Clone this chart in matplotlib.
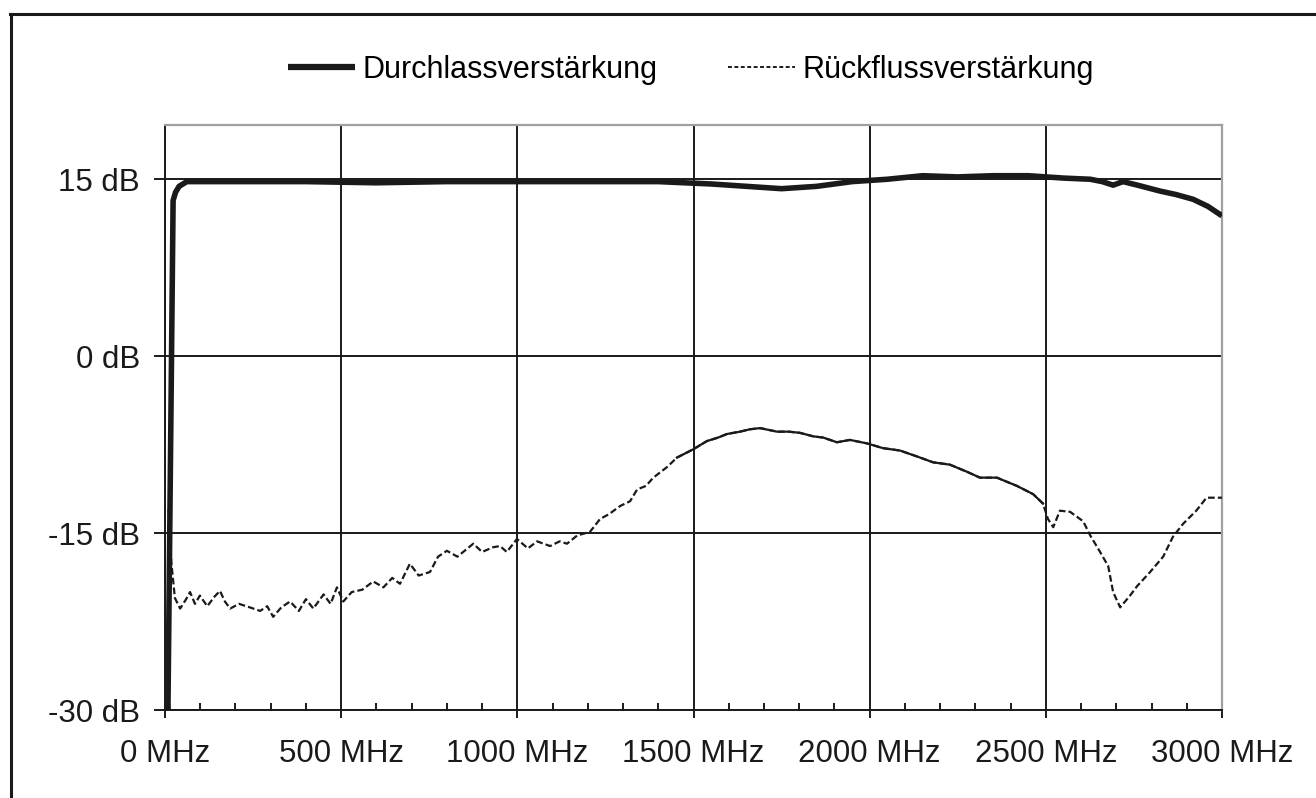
import matplotlib
matplotlib.use("Agg")
import matplotlib.pyplot as plt
from matplotlib.lines import Line2D
from matplotlib.ticker import MultipleLocator, FuncFormatter
import numpy as np

plt.rcParams['font.family'] = ['Liberation Sans', 'DejaVu Sans']

# Durchlassverstaerkung (MHz, dB)
durch_f = [0, 8, 23, 30, 40, 62, 100, 200, 400, 600, 800, 1000, 1200, 1400,
           1550, 1650, 1750, 1850, 1950, 2050, 2150, 2250, 2350, 2450, 2550,
           2626, 2660, 2691, 2719, 2760, 2824, 2870, 2918, 2960, 3000]
durch_db = [-23.5, -31.0, 13.2, 13.9, 14.4, 14.8, 14.8, 14.8, 14.8, 14.7, 14.8,
            14.8, 14.8, 14.8, 14.6, 14.4, 14.2, 14.4, 14.8, 15.0, 15.3, 15.2,
            15.3, 15.3, 15.1, 15.0, 14.8, 14.5, 14.8, 14.5, 14.0, 13.7, 13.3,
            12.7, 11.9]

# Rueckflussverstaerkung (MHz, dB)
rueck_f = [10, 18, 28, 43, 60, 71, 85, 99, 120, 140, 156, 170, 185, 210, 241,
           270, 290, 307, 330, 355, 380, 400, 421, 450, 470, 488, 506, 530, 560,
           591, 620, 645, 667, 695, 720, 752, 775, 800, 830, 875, 900, 931, 951,
           970, 999, 1030, 1056, 1093, 1120, 1141, 1170, 1206, 1235, 1260, 1292,
           1320, 1340, 1365, 1386, 1425, 1453, 1499, 1538, 1570, 1595, 1632,
           1660, 1689, 1737, 1770, 1802, 1840, 1868, 1907, 1944, 1993, 2038,
           2086, 2134, 2180, 2228, 2276, 2313, 2361, 2418, 2464, 2492, 2506,
           2521, 2540, 2569, 2606, 2626, 2654, 2677, 2691, 2711, 2739, 2759,
           2796, 2833, 2861, 2890, 2927, 2956, 3000]
rueck_db = [-13.0, -17.5, -20.5, -21.4, -20.6, -20.0, -21.0, -20.3, -21.2, -20.4,
            -19.9, -20.8, -21.4, -21.0, -21.3, -21.6, -21.2, -22.1, -21.3, -20.8,
            -21.6, -20.6, -21.4, -20.2, -21.0, -19.6, -20.8, -20.0, -19.8, -19.1,
            -19.6, -18.8, -19.3, -17.6, -18.6, -18.3, -17.0, -16.5, -17.0, -15.9,
            -16.6, -16.2, -16.1, -16.6, -15.5, -16.3, -15.7, -16.1, -15.7, -15.9,
            -15.2, -14.9, -13.8, -13.4, -12.7, -12.3, -11.3, -11.0, -10.3, -9.4,
            -8.6, -7.9, -7.2, -6.9, -6.6, -6.4, -6.2, -6.1, -6.4, -6.4, -6.5,
            -6.8, -6.9, -7.3, -7.1, -7.4, -7.8, -8.0, -8.5, -9.0, -9.2, -9.8,
            -10.3, -10.3, -11.0, -11.7, -12.5, -13.8, -14.5, -13.1, -13.2, -14.0,
            -15.2, -16.6, -17.8, -20.0, -21.3, -20.3, -19.5, -18.3, -17.0, -15.3,
            -14.2, -13.1, -12.0, -12.0]

x_ticks = [0, 500, 1000, 1500, 2000, 2500, 3000]
y_ticks = [-30, -15, 0, 15]

fig = plt.figure(figsize=(13.16, 7.98), dpi=100)
ax = fig.add_axes([165 / 1316, 1 - 710 / 798, 1057 / 1316, 585 / 798])

rf = np.array(rueck_f)
rd = np.array(rueck_db)
ax.plot(rf, rd, color='#1a1a1a', lw=1.6, ls=(0, (3, 1.4)), zorder=3)
smooth = (rf >= 1440) & (rf <= 2495)
ax.plot(rf[smooth], rd[smooth], color='#1a1a1a', lw=1.6, zorder=3)
ax.plot(durch_f, durch_db, color='#1a1a1a', lw=4.0, solid_capstyle='butt', zorder=4)

ax.set_xlim(0, 3000)
ax.set_ylim(-30, 19.6)
ax.set_xticks(x_ticks)
ax.set_yticks(y_ticks)
ax.xaxis.set_minor_locator(MultipleLocator(100))
ax.xaxis.set_major_formatter(FuncFormatter(lambda v, p: "%d MHz" % v))
ax.yaxis.set_major_formatter(FuncFormatter(lambda v, p: "%d dB" % v))
ax.grid(True, which='major', color='#1a1a1a', lw=1.4)
ax.set_axisbelow(True)

ax.tick_params(axis='y', which='major', direction='out', length=8, width=1.4,
               color='#1a1a1a', labelsize=22.5, pad=10, labelcolor='#1a1a1a')
ax.tick_params(axis='x', which='major', direction='out', length=6, width=1.4,
               color='#1a1a1a', labelsize=22.5, pad=15, labelcolor='#1a1a1a')
ax.tick_params(axis='x', which='minor', direction='in', length=5, width=1.4,
               color='#1a1a1a')

for s in ['left', 'bottom']:
    ax.spines[s].set_color('#1a1a1a')
    ax.spines[s].set_linewidth(1.4)
for s in ['top', 'right']:
    ax.spines[s].set_color('#a0a0a0')
    ax.spines[s].set_linewidth(1.6)

handles = [Line2D([], [], color='#1a1a1a', lw=4.5, solid_capstyle='butt'),
           Line2D([], [], color='#1a1a1a', lw=1.4, ls=(0, (2, 1.3)))]
fig.legend(handles, ['Durchlassverstärkung', 'Rückflussverstärkung'],
           loc='center', bbox_to_anchor=(691 / 1316, 1 - 70 / 798), ncol=2,
           frameon=False, fontsize=22, handlelength=2.2, handletextpad=0.25,
           columnspacing=2.3)

# frame lines of the figure (left and top)
fig.add_artist(Line2D([11 / 1316, 11 / 1316], [0, 1 - 14 / 798],
                      transform=fig.transFigure, color='#1a1a1a', lw=2.2))
fig.add_artist(Line2D([10 / 1316, 1], [1 - 14 / 798, 1 - 14 / 798],
                      transform=fig.transFigure, color='#1a1a1a', lw=2.2))

fig.savefig('out.png', dpi=100)
